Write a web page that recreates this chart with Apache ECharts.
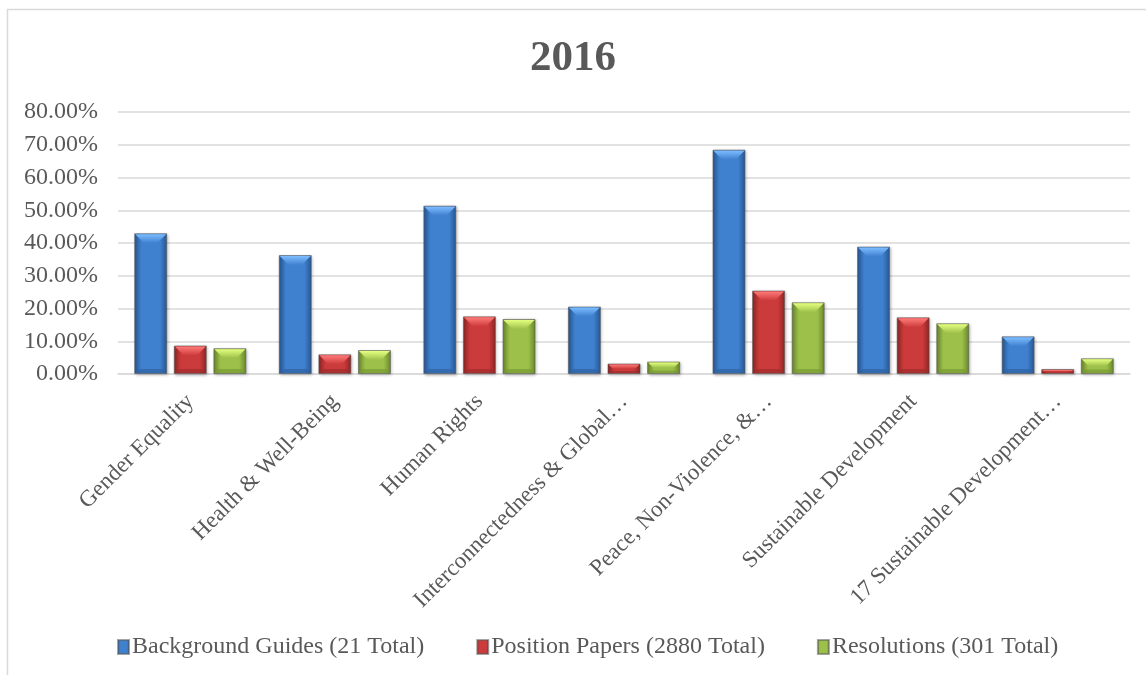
<!DOCTYPE html>
<html>
<head>
<meta charset="utf-8">
<script src="https://cdn.jsdelivr.net/npm/echarts@6/dist/echarts.min.js"></script>
<style>
html,body{margin:0;padding:0;background:#fff;}
#chart{width:1146px;height:675px;}
</style>
</head>
<body>
<div id="chart"></div>
<script>
const titleText = '2016';
const categories = [
  'Gender Equality',
  'Health & Well-Being',
  'Human Rights',
  'Interconnectedness & Global…',
  'Peace, Non-Violence, &…',
  'Sustainable Development',
  '17 Sustainable Development…'
];
const seriesNames = ['Background Guides (21 Total)', 'Position Papers (2880 Total)', 'Resolutions (301 Total)'];
const backgroundGuides = [43.0, 36.3, 51.4, 20.6, 68.5, 38.9, 11.5];
const positionPapers = [8.7, 6.0, 17.6, 3.2, 25.5, 17.3, 1.5];
const resolutions = [7.9, 7.3, 16.8, 3.8, 21.9, 15.5, 4.8];
const yTicks = { min: 0, max: 80, interval: 10 };

const BAR_W = 33;
const BAR_GAP = 0.2;
const palettes = [
  { edge: '#27558f', mid: '#3f80cf', bevel: '#7cbcff', bottom: '#2f63a3' },
  { edge: '#8a2424', mid: '#cc3b3b', bevel: '#ff7a7a', bottom: '#9e2c2c' },
  { edge: '#67852a', mid: '#9dc04a', bevel: '#e4ff80', bottom: '#779a33' }
];
const values = [backgroundGuides, positionPapers, resolutions];

function bodyGradient(p) {
  return new echarts.graphic.LinearGradient(0, 0, 1, 0, [
    { offset: 0, color: p.edge },
    { offset: 0.22, color: p.mid },
    { offset: 0.78, color: p.mid },
    { offset: 1, color: p.edge }
  ]);
}

const barSeries = values.map((arr, s) => ({
  name: seriesNames[s],
  type: 'bar',
  data: arr,
  barWidth: BAR_W,
  barGap: (BAR_GAP * 100) + '%',
  itemStyle: {
    color: bodyGradient(palettes[s]),
    borderColor: 'rgba(90,90,90,0.55)',
    borderWidth: 1,
    shadowBlur: 3,
    shadowOffsetX: 1,
    shadowOffsetY: 1,
    shadowColor: 'rgba(0,0,0,0.3)'
  },
  emphasis: { disabled: true },
  z: 2
}));

const bevelSeries = values.map((arr, s) => ({
  type: 'custom',
  silent: true,
  z: 3,
  data: arr.map((v, i) => [i, v]),
  renderItem: function (params, api) {
    const idx = api.value(0);
    const v = api.value(1);
    const top = api.coord([idx, v]);
    const base = api.coord([idx, 0]);
    const step = BAR_W * (1 + BAR_GAP);
    const cx = top[0] + (s - 1) * step;
    const x0 = cx - BAR_W / 2 + 1, x1 = cx + BAR_W / 2 - 1;
    const y0 = top[1] + 1, yb = base[1] - 1;
    const hgt = yb - y0;
    const bh = Math.max(0, Math.min(9, hgt / 2));
    const inset = Math.min(9, bh);
    const p = palettes[s];
    const children = [];
    if (bh > 0) {
      children.push({
        type: 'polygon',
        shape: { points: [[x0, y0], [x1, y0], [x1 - inset, y0 + bh], [x0 + inset, y0 + bh]] },
        style: {
          fill: new echarts.graphic.LinearGradient(0, 0, 0, 1, [
            { offset: 0, color: p.bevel },
            { offset: 1, color: p.mid }
          ])
        }
      });
      const bb = Math.min(4, bh / 2);
      children.push({
        type: 'polygon',
        shape: { points: [[x0, yb], [x1, yb], [x1 - bb, yb - bb], [x0 + bb, yb - bb]] },
        style: { fill: p.bottom, opacity: 0.7 }
      });
    }
    return { type: 'group', children: children };
  }
}));

const chart = echarts.init(document.getElementById('chart'), null, { renderer: 'canvas' });
chart.setOption({
  backgroundColor: '#ffffff',
  animation: false,
  graphic: [{
    type: 'rect',
    shape: { x: 7.5, y: 9.5, width: 1160, height: 700 },
    style: { fill: 'none', stroke: '#d9d9d9', lineWidth: 1.5 },
    silent: true, z: -10
  }],
  title: {
    text: titleText,
    left: 'center',
    top: 32,
    textStyle: { fontFamily: 'Liberation Serif', fontWeight: 'bold', fontSize: 43, color: '#595959' }
  },
  legend: {
    data: seriesNames,
    left: 112,
    top: 630,
    icon: 'rect',
    itemWidth: 11,
    itemHeight: 14,
    itemGap: 52,
    textStyle: { fontFamily: 'Liberation Serif', fontSize: 24, color: '#595959', padding: [0, 0, 0, -2] }
  },
  grid: { left: 118, right: 16, top: 112, bottom: 301, containLabel: false },
  xAxis: {
    type: 'category',
    data: categories,
    axisLine: { show: true, lineStyle: { color: '#d9d9d9', width: 1.5 } },
    axisTick: { show: false },
    axisLabel: {
      rotate: 45,
      margin: 24,
      interval: 0,
      fontFamily: 'Liberation Serif',
      fontSize: 23,
      color: '#595959'
    }
  },
  yAxis: {
    type: 'value',
    min: yTicks.min,
    max: yTicks.max,
    interval: yTicks.interval,
    axisLine: { show: false },
    axisTick: { show: false },
    splitLine: { lineStyle: { color: '#d9d9d9', width: 1.5 } },
    axisLabel: {
      margin: 20,
      fontFamily: 'Liberation Serif',
      fontSize: 24,
      color: '#595959',
      formatter: v => v.toFixed(2) + '%'
    }
  },
  series: barSeries.concat(bevelSeries)
});
</script>
</body>
</html>
